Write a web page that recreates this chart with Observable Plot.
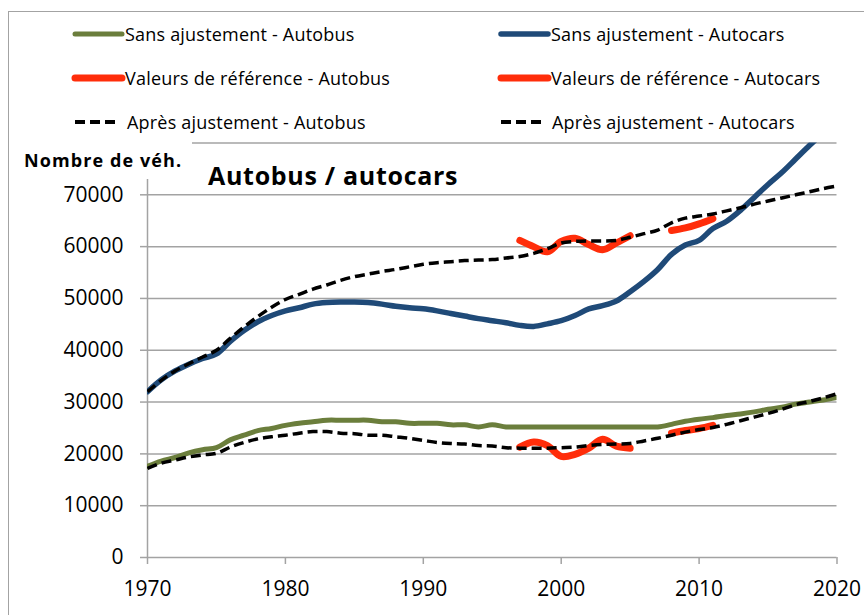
<!DOCTYPE html>
<html><head><meta charset="utf-8">
<script src="https://cdn.jsdelivr.net/npm/d3@7"></script>
<script src="https://cdn.jsdelivr.net/npm/@observablehq/plot@0.6"></script>
<style>
body{margin:0;background:#fff;overflow:hidden;font-family:"Open Sans",sans-serif;}
#wrap{position:relative;width:864px;height:615px;overflow:hidden;background:#fff;}
.abs{position:absolute;white-space:nowrap;color:#000;}
</style></head><body><div id="wrap"></div>
<script>
// ---- data ----
const years = d3.range(1970, 2021);
const yTicks = [0, 10000, 20000, 30000, 40000, 50000, 60000, 70000];
const yGrid = [10000, 20000, 30000, 40000, 50000, 60000, 70000, 80000];
const xTicks = [1970, 1980, 1990, 2000, 2010, 2020];

// Sans ajustement - Autobus
const busRaw = [17600,18600,19300,20200,20800,21200,22700,23600,24500,24900,
  25500,25900,26200,26500,26500,26500,26500,26200,26200,25900,
  25900,25900,25600,25600,25200,25600,25200,25200,25200,25200,
  25200,25200,25200,25200,25200,25200,25200,25200,25700,26300,
  26700,27000,27400,27700,28100,28600,29000,29600,30000,30400,30900];
// Sans ajustement - Autocars
const carRaw = [32000,34300,36000,37300,38400,39300,41700,43800,45500,46700,
  47600,48200,48900,49200,49300,49300,49200,48900,48500,48200,
  48000,47600,47100,46600,46100,45700,45300,44800,44600,45100,
  45700,46700,48000,48600,49500,51300,53300,55600,58500,60300,
  61200,63500,64900,67000,69500,72000,74300,76900,79500,82000,84500];
// Valeurs de référence - Autobus
const busRef = [null,null,null,null,null,null,null,null,null,null,
  null,null,null,null,null,null,null,null,null,null,
  null,null,null,null,null,null,null,21300,22300,21600,
  19500,19900,21100,22800,21500,21100,null,null,24000,24500,
  24900,25500,null,null,null,null,null,null,null,null,null];
// Valeurs de référence - Autocars
const carRef = [null,null,null,null,null,null,null,null,null,null,
  null,null,null,null,null,null,null,null,null,null,
  null,null,null,null,null,null,null,61200,60000,59000,
  61000,61600,60400,59400,60700,62100,null,null,63100,63600,
  64400,65400,null,null,null,null,null,null,null,null,null];
// Après ajustement - Autobus
const busAdj = [17200,18200,18800,19400,19800,20100,21300,22200,22900,23300,
  23600,24000,24300,24300,24000,23900,23600,23600,23300,23000,
  22600,22200,22000,21900,21600,21500,21200,21100,21100,21100,
  21200,21300,21600,21800,21900,22000,22500,23000,23600,24200,
  24700,25100,25700,26400,27100,27800,28600,29500,30100,30800,31600];
// Après ajustement - Autocars
const carAdj = [32000,34200,36000,37400,38700,40000,42300,44500,46500,48300,
  49800,50800,51800,52600,53500,54200,54700,55200,55600,56100,
  56600,56900,57100,57300,57400,57500,57800,58100,58700,59600,
  60700,61000,61100,61100,61200,61800,62500,63200,64600,65500,
  65900,66300,66900,67500,68200,68800,69400,70000,70600,71200,71700];

const legendItems = [
  {label: "Sans ajustement - Autobus", key: "busRaw"},
  {label: "Sans ajustement - Autocars", key: "carRaw"},
  {label: "Valeurs de référence - Autobus", key: "busRef"},
  {label: "Valeurs de référence - Autocars", key: "carRef"},
  {label: "Après ajustement - Autobus", key: "busAdj"},
  {label: "Après ajustement - Autocars", key: "carAdj"}
];
const titleText = "Autobus / autocars";
const yLabelText = "Nombre de véh.";

// ---- styles ----
const FONT = "'Open Sans', sans-serif";
const GREEN = "#6b7e3c", BLUE = "#1f4a78", RED = "#ff2d0a", GRID = "#a3a3a3";
const styles = {
  busRaw: {stroke: GREEN, width: 5, dash: null},
  carRaw: {stroke: BLUE, width: 5.5, dash: null},
  busRef: {stroke: RED, width: 7, dash: null},
  carRef: {stroke: RED, width: 7, dash: null},
  busAdj: {stroke: "#000", width: 3.5, dash: "10,5"},
  carAdj: {stroke: "#000", width: 3.5, dash: "10,5"}
};
const series = {busRaw, carRaw, busRef, carRef, busAdj, carAdj};
const rows = years.map((year, i) => ({year, i}));

function lineMark(key) {
  const s = styles[key];
  const vals = series[key];
  return Plot.line(rows, {
    x: "year", y: d => vals[d.i],
    stroke: s.stroke, strokeWidth: s.width,
    strokeDasharray: s.dash || undefined,
    strokeLinecap: s.dash ? "butt" : "round",
    strokeLinejoin: "round",
    curve: "catmull-rom", clip: true
  });
}

const chart = Plot.plot({
  width: 864, height: 615,
  marginLeft: 147, marginRight: 27.5, marginTop: 142.5, marginBottom: 58,
  style: {fontFamily: FONT, fontSize: "21px", color: "#000", background: "transparent"},
  x: {domain: [1970, 2020]},
  y: {domain: [0, 80000]},
  marks: [
    Plot.ruleY(yGrid, {stroke: GRID, strokeWidth: 1.5}),
    Plot.ruleY([0], {stroke: GRID, strokeWidth: 1.5}),
    Plot.ruleX([1970], {stroke: GRID, strokeWidth: 1.5}),
    Plot.axisY({ticks: yTicks, tickSize: 7, tickPadding: 17, stroke: GRID, strokeWidth: 1.5, fill: "#000", fontSize: 21, label: null, tickFormat: d => String(d)}),
    Plot.axisX({ticks: xTicks, tickSize: 7, tickPadding: 17, stroke: GRID, strokeWidth: 1.5, fill: "#000", fontSize: 21, label: null, tickFormat: d => String(d)}),
    lineMark("busRaw"),
    lineMark("carRaw"),
    lineMark("busRef"),
    lineMark("carRef"),
    lineMark("busAdj"),
    lineMark("carAdj")
  ]
});

const wrap = document.getElementById("wrap");
chart.style.position = "absolute";
chart.style.left = "0px";
chart.style.top = "0px";
wrap.appendChild(chart);

// outer chart-area frame
const frame = document.createElement("div");
frame.className = "abs";
Object.assign(frame.style, {left: "8px", top: "10.5px", width: "900px", height: "700px",
  borderTop: "1.5px solid " + GRID, borderLeft: "1.5px solid " + GRID});
wrap.appendChild(frame);

// white box behind y label
const box = document.createElement("div");
box.className = "abs";
Object.assign(box.style, {left: "11px", top: "138px", width: "181px", height: "41px", background: "#fff"});
wrap.appendChild(box);

function addText(text, left, baseline, size, weight, spacing) {
  const d = document.createElement("div");
  d.className = "abs";
  d.textContent = text;
  Object.assign(d.style, {left: left + "px", top: (baseline - 0.888 * size) + "px",
    fontFamily: FONT, fontSize: size + "px", lineHeight: size + "px",
    fontWeight: weight || "normal", letterSpacing: (spacing || 0) + "px"});
  wrap.appendChild(d);
  return d;
}
addText(yLabelText, 24, 167, 18, "bold", 1.1);
addText(titleText, 208, 185, 25, "bold", 0.7);

// legend
const NS = "http://www.w3.org/2000/svg";
const legendBaselines = [41, 85, 128.5];
legendItems.forEach((item, k) => {
  const col = k % 2, row = Math.floor(k / 2);
  const s = styles[item.key];
  const base = legendBaselines[row];
  const cy = base - 7;
  const x0 = col === 0 ? 75 : 501;
  const x1 = s.dash ? x0 + 42 : x0 + 47;
  const tx = s.dash ? (col === 0 ? 127 : 552) : (col === 0 ? 125 : 551);
  const svg = document.createElementNS(NS, "svg");
  svg.setAttribute("width", 70); svg.setAttribute("height", 20);
  Object.assign(svg.style, {position: "absolute", left: (x0 - 5) + "px", top: (cy - 10) + "px"});
  const ln = document.createElementNS(NS, "line");
  ln.setAttribute("x1", 5); ln.setAttribute("x2", 5 + (x1 - x0));
  ln.setAttribute("y1", 10); ln.setAttribute("y2", 10);
  ln.setAttribute("stroke", s.stroke);
  ln.setAttribute("stroke-width", s.dash ? 4 : s.width);
  ln.setAttribute("stroke-linecap", s.dash ? "butt" : "round");
  if (s.dash) ln.setAttribute("stroke-dasharray", "10,5");
  svg.appendChild(ln);
  wrap.appendChild(svg);
  addText(item.label, tx, base, 18, "normal", 0.2);
});
</script></body></html>
